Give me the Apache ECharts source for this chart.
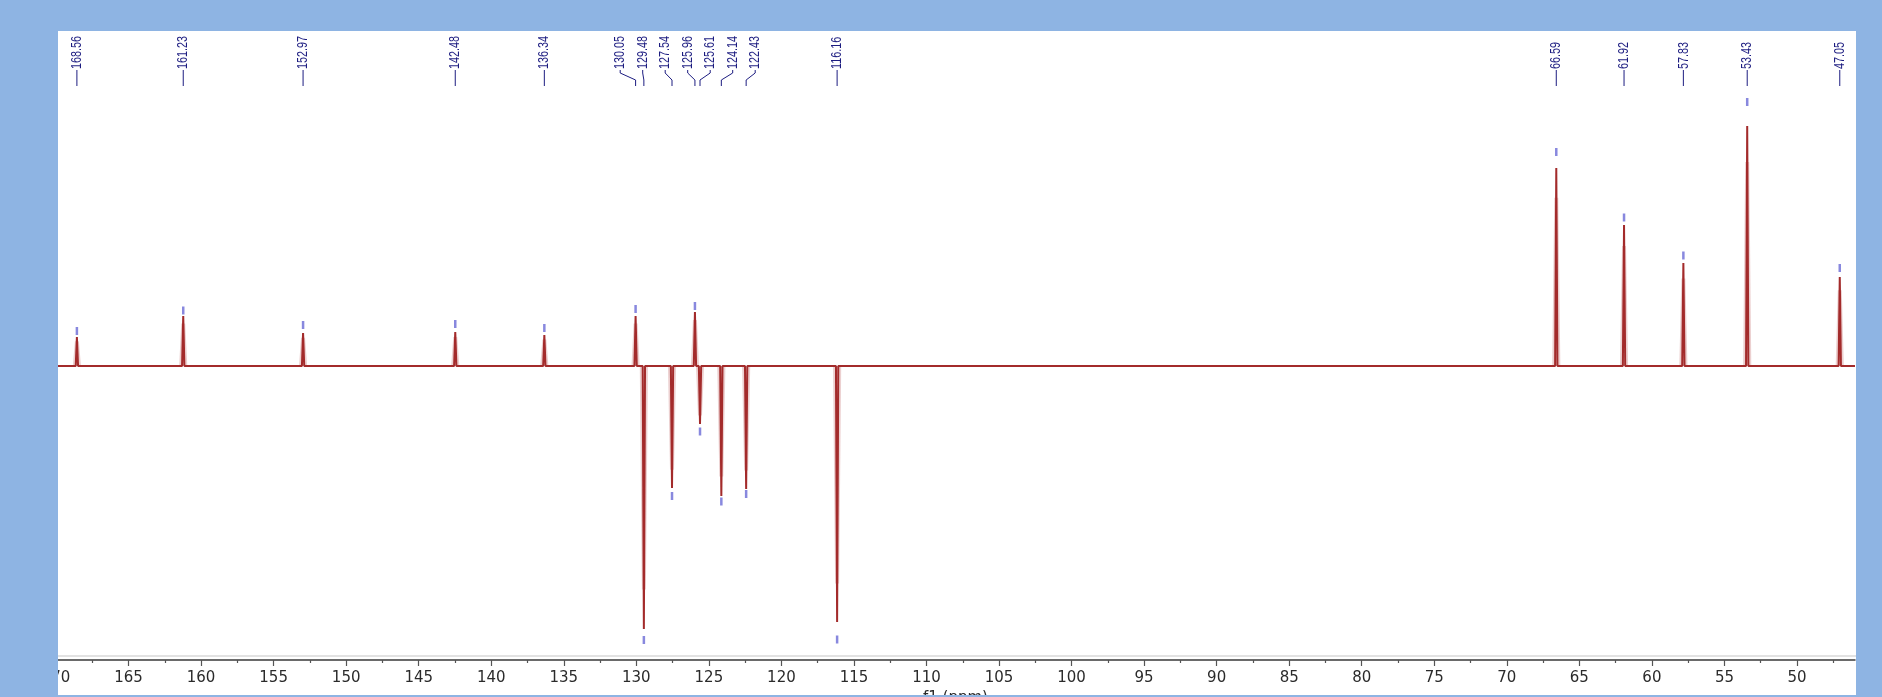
<!DOCTYPE html>
<html><head><meta charset="utf-8">
<script src="https://cdn.jsdelivr.net/npm/echarts@6/dist/echarts.min.js"></script>
<style>
html,body{margin:0;padding:0;width:1882px;height:697px;background:#8eb4e3;overflow:hidden}
#chart{position:absolute;left:58px;top:31px;width:1798px;height:664px;background:#fff}
</style></head><body><div id="chart"></div>
<script>
// ---- data ----
const peakPpm = [168.56,161.23,152.97,142.48,136.34,130.05,129.48,127.54,125.96,125.61,124.14,122.43,116.16,66.59,61.92,57.83,53.43,47.05];
const peakLabels = ['168.56','161.23','152.97','142.48','136.34','130.05','129.48','127.54','125.96','125.61','124.14','122.43','116.16','66.59','61.92','57.83','53.43','47.05'];
// drawn height of each spike (intensity units, baseline = 0)
const peakHeight = [29,50,33,34,31,50,-263,-122,54,-58,-130,-123,-256,198,141,103,240,89];
// picked peak intensity (the small blue peak markers)
const markerHeight = [35,55.5,41,42,38,57,-274,-130,60,-65.5,-135.5,-128,-273.5,214,148.5,110.5,264,98];
const xTickLabels = [50,55,60,65,70,75,80,85,90,95,100,105,110,115,120,125,130,135,140,145,150,155,160,165,170];
const xMinorTicks = [47.5,52.5,57.5,62.5,67.5,72.5,77.5,82.5,87.5,92.5,97.5,102.5,107.5,112.5,117.5,122.5,127.5,132.5,137.5,142.5,147.5,152.5,157.5,162.5,167.5];
const xMin = 46, xMax = 170;
const yMin = -294, yMax = 335;

// ---- build traces from the peak list ----
const halfBase = 0.08;
const order = peakPpm.map((p,i)=>i).sort((a,b)=>peakPpm[b]-peakPpm[a]);
const spectrum = [[xMax,0]];
const glow = [];
order.forEach(i=>{
  const p = peakPpm[i], h = peakHeight[i];
  spectrum.push([p+halfBase,0],[p,h],[p-halfBase,0]);
  glow.push([p+halfBase*1.8,0],[p,h*0.85],[p-halfBase*1.8,0],'-');
});
spectrum.push([xMin,0]);
spectrum.sort((a,b)=>b[0]-a[0]);

const navy = '#1c1c80';
let layout = null;
function computeLayout(api){
  const xs = peakPpm.map(p=>api.coord([p,0])[0]);
  const idx = xs.map((x,i)=>i).sort((a,b)=>xs[a]-xs[b]);
  const gap = 22.5;
  let clusters = idx.map(i=>({items:[i],center:xs[i]}));
  let merged = true;
  while(merged){
    merged = false;
    for(let k=0;k<clusters.length-1;k++){
      const a=clusters[k], b=clusters[k+1];
      const aEnd = a.center + (a.items.length-1)*gap/2;
      const bStart = b.center - (b.items.length-1)*gap/2;
      if(bStart-aEnd < gap){
        const items = a.items.concat(b.items);
        const center = items.reduce((s,i)=>s+xs[i],0)/items.length;
        clusters.splice(k,2,{items,center});
        merged = true; break;
      }
    }
  }
  const lx = [];
  clusters.forEach(c=>c.items.forEach((i,j)=>{ lx[i] = c.center + (j-(c.items.length-1)/2)*gap; }));
  return {xs,lx};
}

const chart = echarts.init(document.getElementById('chart'), null, {renderer:'canvas'});
chart.setOption({
  animation:false,
  grid:{left:-2, right:1, top:0, bottom:35, containLabel:false, outerBoundsMode:'none'},
  xAxis:[{
    type:'value', min:xMin, max:xMax, inverse:true, position:'bottom',
    axisLine:{show:true, onZero:false, lineStyle:{color:'#3a3a3a', width:1.5}},
    axisTick:{show:true, length:6, customValues:xTickLabels, lineStyle:{color:'#555', width:1.2}},
    axisLabel:{customValues:xTickLabels, margin:11, fontSize:15, fontFamily:'DejaVu Sans', color:'#2b2b2b', hideOverlap:false},
    splitLine:{show:false},
    name:'f1 (ppm)', nameLocation:'middle', nameGap:29,
    nameTextStyle:{fontSize:15, fontFamily:'DejaVu Sans', color:'#2b2b2b'}
  },{
    type:'value', min:xMin, max:xMax, inverse:true, position:'bottom',
    axisLine:{show:false, onZero:false},
    axisTick:{show:true, length:3, customValues:xMinorTicks, lineStyle:{color:'#555', width:1.2}},
    axisLabel:{show:false}, splitLine:{show:false}
  }],
  yAxis:{type:'value', min:yMin, max:yMax, show:false, splitLine:{show:false}},
  series:[
    {type:'line', data:glow, xAxisIndex:0, showSymbol:false, connectNulls:false, silent:true,
     lineStyle:{color:'rgba(185,85,85,0.28)', width:4}, z:1},
    {type:'line', data:spectrum, xAxisIndex:0, showSymbol:false, silent:true,
     lineStyle:{color:'#a32b2b', width:2}, z:2},
    {type:'scatter', data:peakPpm.map((p,i)=>[p,markerHeight[i]]), xAxisIndex:0,
     symbol:'rect', symbolSize:[2.5,8], itemStyle:{color:'#7373d8', opacity:0.85}, z:3, silent:true},
    {type:'custom', xAxisIndex:0, clip:false, silent:true, z:4,
     data:peakPpm.map((p,i)=>[p,i]),
     renderItem(params, api){
       if(params.dataIndexInside===0 || !layout) layout = computeLayout(api);
       const i = api.value(1);
       const top = api.coord([peakPpm[i], yMax])[1];
       const px = layout.xs[i], lx = layout.lx[i];
       const yT = top+38, y1 = top+42, y2 = top+49, y3 = top+55;
       const pts = Math.abs(px-lx)<0.5 ? [[lx,yT+1],[lx,y3]] : [[lx,yT+1],[lx,y1],[px,y2],[px,y3]];
       return {type:'group', children:[
         {type:'text', x:lx, y:yT, rotation:Math.PI/2, scaleX:0.72,
          style:{text:peakLabels[i], align:'left', verticalAlign:'middle', fill:navy,
                 font:'15px "Liberation Sans", Arial, sans-serif'}},
         {type:'polyline', shape:{points:pts}, style:{stroke:navy, lineWidth:1, fill:null}}
       ]};
     }}
  ]
});
const yAx = chart.convertToPixel({yAxisIndex:0}, yMin);
chart.setOption({graphic:[{type:'line', shape:{x1:0,y1:yAx-4,x2:1798,y2:yAx-4}, style:{stroke:'#e2e2e2', lineWidth:2}, silent:true}]});
</script></body></html>
